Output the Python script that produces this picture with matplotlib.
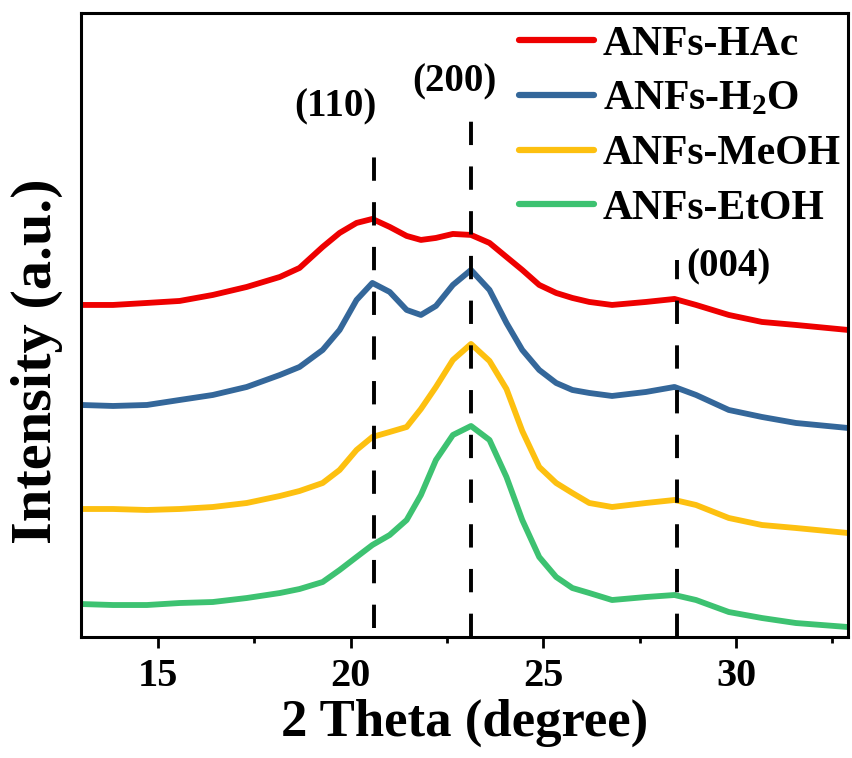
import matplotlib
matplotlib.use("Agg")
import matplotlib.pyplot as plt

# XRD patterns (2 theta in degree, intensity in a.u. incl. offsets)
theta = [13.0, 13.83, 14.71, 15.56, 16.42, 17.30, 18.16, 18.67, 19.27, 19.71, 20.15,
         20.56, 21.01, 21.45, 21.82, 22.21, 22.65, 23.12, 23.60, 24.04, 24.45, 24.89,
         25.33, 25.75, 26.19, 26.78, 27.66, 28.40, 28.96, 29.81, 30.67, 31.55, 32.9]

hac_int = [332, 332, 334, 336, 342, 350, 360, 369, 390, 404, 414,
           418, 410, 401, 397, 399, 403, 402, 394, 380, 367, 352,
           344, 339, 335, 332, 335, 338, 332, 322, 315, 312, 307]

h2o_int = [232, 231, 232, 237, 242, 250, 262, 270, 287, 307, 337,
           354, 345, 327, 322, 331, 352, 367, 347, 314, 287, 267,
           254, 247, 244, 241, 245, 250, 242, 227, 220, 214, 209]

meoh_int = [128, 128, 127, 128, 130, 134, 141, 146, 154, 167, 187,
            200, 205, 210, 228, 250, 277, 293, 276, 248, 206, 170,
            154, 144, 134, 130, 134, 137, 132, 119, 112, 109, 104]

etoh_int = [33, 32, 32, 34, 35, 39, 44, 48, 55, 67, 80,
            92, 102, 117, 142, 177, 202, 211, 197, 160, 117, 80,
            60, 49, 44, 37, 40, 42, 37, 25, 19, 14, 10]

labels = ["ANFs-HAc", "ANFs-H$_2$O", "ANFs-MeOH", "ANFs-EtOH"]
colors = ["#EE0000", "#34679A", "#FDC010", "#3DC271"]

# reflections: position, label, dashed line extent, label anchor
peak_pos = [20.59, 23.13, 28.47]
peak_names = ["(110)", "(200)", "(004)"]
peak_tops = [497, 524, 377]
peak_bottoms = [9, 0, 0]
label_x = [19.61, 22.69, 29.8]
label_y = [530, 555, 370]

plt.rcParams["font.family"] = ["Liberation Serif", "DejaVu Serif"]
plt.rcParams["font.weight"] = "bold"
plt.rcParams["mathtext.fontset"] = "custom"
plt.rcParams["mathtext.rm"] = "Liberation Serif:bold"
plt.rcParams["mathtext.it"] = "Liberation Serif:bold"
plt.rcParams["mathtext.bf"] = "Liberation Serif:bold"

fig = plt.figure(figsize=(8.53, 7.58), dpi=100)
ax = fig.add_axes([0.095, 0.1596, 0.899, 0.8234])

for y, lab, col in zip([hac_int, h2o_int, meoh_int, etoh_int], labels, colors):
    ax.plot(theta, y, color=col, lw=4.2, label=lab,
            solid_joinstyle="round", solid_capstyle="butt")

for pos, top, bot in zip(peak_pos, peak_tops, peak_bottoms):
    ax.plot([pos, pos], [bot, top], color="black", lw=2.8, linestyle=(0, (6, 5.5)))

for name, lx, ly in zip(peak_names, label_x, label_y):
    ax.text(lx, ly, name, ha="center", va="center", fontsize=28, fontweight="bold")

ax.set_xlim(13, 32.9)
ax.set_ylim(0, 624)
ax.set_xticks([15, 20, 25, 30])
ax.set_xticks([17.5, 22.5, 27.5, 32.5], minor=True)
ax.set_yticks([])
ax.tick_params(axis="x", which="major", direction="out", length=8, width=2,
               labelsize=29, pad=7)
ax.tick_params(axis="x", which="minor", direction="out", length=4, width=2)
for sp in ax.spines.values():
    sp.set_linewidth(2.2)

ax.set_xlabel("2 Theta (degree)", fontsize=38, fontweight="bold", labelpad=3)
ax.set_ylabel("Intensity (a.u.)", fontsize=42, fontweight="bold")
ax.yaxis.set_label_coords(-0.024, 0.442)

leg = ax.legend(loc="upper right", bbox_to_anchor=(1.007, 1.0), frameon=False,
                fontsize=30, handlelength=1.8, handletextpad=0.2,
                labelspacing=0.4, borderaxespad=0.05, borderpad=0.25)
for line in leg.get_lines():
    line.set_linewidth(4.5)
    line.set_solid_capstyle("round")

fig.savefig("out.png", dpi=100)
